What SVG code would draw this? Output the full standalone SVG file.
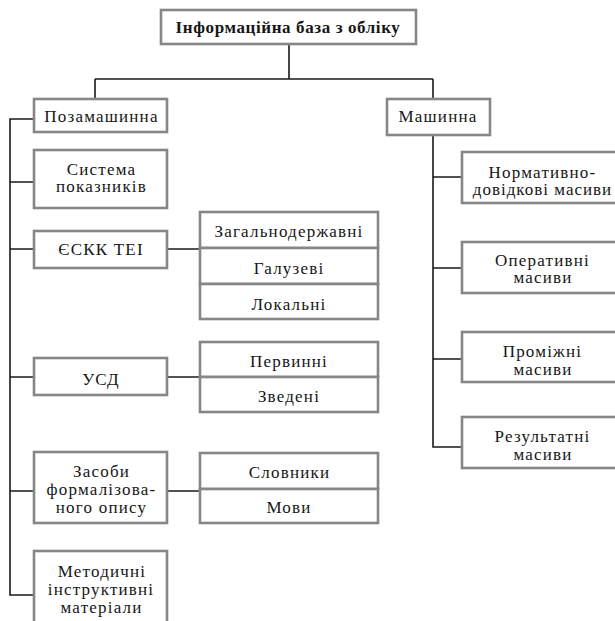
<svg xmlns="http://www.w3.org/2000/svg" width="615" height="621" viewBox="0 0 615 621">
<rect width="615" height="621" fill="#fff"/>
<g id="connectors" fill="none" stroke="#1a1a1a" stroke-width="1.6">
<path d="M289 44V79M95 79H433M95 79V99M433 79V99"/>
<path d="M34 119H10V595H34M10 182H34M10 249H34M10 377H34M10 491H34"/>
<path d="M167 249H200M167 377H200M167 491H200"/>
<path d="M433 135V447H462M433 177H462M433 268H462M433 359H462"/>
</g>
<g id="nodes" fill="#fff" stroke="#868686" stroke-width="2.6">
<g id="title"><rect x="161" y="10" width="255" height="34"/><text font-family="Liberation Serif" font-size="17" font-weight="bold" fill="#161616" stroke="none" text-anchor="middle" letter-spacing="0.6" x="288" y="33">Інформаційна база з обліку</text></g>
<g id="pozamashynna"><rect x="34" y="99" width="133" height="33"/><text font-family="Liberation Serif" font-size="17" fill="#161616" stroke="none" text-anchor="middle" letter-spacing="1.2" x="101.5" y="122">Позамашинна</text></g>
<g id="systema"><rect x="34" y="150" width="133" height="58"/><text font-family="Liberation Serif" font-size="17" fill="#161616" stroke="none" text-anchor="middle" letter-spacing="1.2" x="101.5" y="175">Система</text><text font-family="Liberation Serif" font-size="17" fill="#161616" stroke="none" text-anchor="middle" letter-spacing="1.2" x="101.5" y="192">показників</text></g>
<g id="eskk"><rect x="34" y="231" width="133" height="37"/><text font-family="Liberation Serif" font-size="17" fill="#161616" stroke="none" text-anchor="middle" letter-spacing="1.2" x="101" y="255">ЄСКК ТЕІ</text></g>
<g id="zagalno"><rect x="200" y="212" width="178" height="36"/><text font-family="Liberation Serif" font-size="17" fill="#161616" stroke="none" text-anchor="middle" letter-spacing="1.2" x="289" y="237">Загальнодержавні</text></g>
<g id="haluzevi"><rect x="200" y="248" width="178" height="36"/><text font-family="Liberation Serif" font-size="17" fill="#161616" stroke="none" text-anchor="middle" letter-spacing="1.2" x="289" y="274">Галузеві</text></g>
<g id="lokalni"><rect x="200" y="284" width="178" height="35"/><text font-family="Liberation Serif" font-size="17" fill="#161616" stroke="none" text-anchor="middle" letter-spacing="1.2" x="289" y="310">Локальні</text></g>
<g id="usd"><rect x="34" y="358" width="133" height="37"/><text font-family="Liberation Serif" font-size="17" fill="#161616" stroke="none" text-anchor="middle" letter-spacing="1.2" x="101" y="385">УСД</text></g>
<g id="pervynni"><rect x="200" y="342" width="178" height="35"/><text font-family="Liberation Serif" font-size="17" fill="#161616" stroke="none" text-anchor="middle" letter-spacing="1.2" x="289" y="367">Первинні</text></g>
<g id="zvedeni"><rect x="200" y="377" width="178" height="35"/><text font-family="Liberation Serif" font-size="17" fill="#161616" stroke="none" text-anchor="middle" letter-spacing="1.2" x="289" y="402">Зведені</text></g>
<g id="zasoby"><rect x="34" y="452" width="133" height="71"/><text font-family="Liberation Serif" font-size="17" fill="#161616" stroke="none" text-anchor="middle" letter-spacing="1.2" x="101.5" y="477">Засоби</text><text font-family="Liberation Serif" font-size="17" fill="#161616" stroke="none" text-anchor="middle" letter-spacing="1.2" x="101.5" y="495">формалізова-</text><text font-family="Liberation Serif" font-size="17" fill="#161616" stroke="none" text-anchor="middle" letter-spacing="1.2" x="101.5" y="513">ного опису</text></g>
<g id="slovnyky"><rect x="200" y="453" width="178" height="36"/><text font-family="Liberation Serif" font-size="17" fill="#161616" stroke="none" text-anchor="middle" letter-spacing="1.2" x="289.5" y="478">Словники</text></g>
<g id="movy"><rect x="200" y="489" width="178" height="34"/><text font-family="Liberation Serif" font-size="17" fill="#161616" stroke="none" text-anchor="middle" letter-spacing="1.2" x="289" y="513">Мови</text></g>
<g id="metodychni"><rect x="34" y="551" width="133" height="80"/><text font-family="Liberation Serif" font-size="17" fill="#161616" stroke="none" text-anchor="middle" letter-spacing="1.2" x="102" y="577">Методичні</text><text font-family="Liberation Serif" font-size="17" fill="#161616" stroke="none" text-anchor="middle" letter-spacing="1.2" x="101" y="595">інструктивні</text><text font-family="Liberation Serif" font-size="17" fill="#161616" stroke="none" text-anchor="middle" letter-spacing="1.2" x="101.5" y="613">матеріали</text></g>
<g id="mashynna"><rect x="387" y="99" width="103" height="36"/><text font-family="Liberation Serif" font-size="17" fill="#161616" stroke="none" text-anchor="middle" letter-spacing="1.2" x="438" y="122">Машинна</text></g>
<g id="normatyvno"><rect x="462" y="152" width="160" height="51"/><text font-family="Liberation Serif" font-size="17" fill="#161616" stroke="none" text-anchor="middle" letter-spacing="1.2" x="542.5" y="178">Нормативно-</text><text font-family="Liberation Serif" font-size="17" fill="#161616" stroke="none" text-anchor="middle" letter-spacing="1" x="542.5" y="195">довідкові масиви</text></g>
<g id="operatyvni"><rect x="462" y="242" width="160" height="51"/><text font-family="Liberation Serif" font-size="17" fill="#161616" stroke="none" text-anchor="middle" letter-spacing="1.2" x="542.5" y="266">Оперативні</text><text font-family="Liberation Serif" font-size="17" fill="#161616" stroke="none" text-anchor="middle" letter-spacing="1.2" x="543" y="283">масиви</text></g>
<g id="promizhni"><rect x="462" y="332" width="160" height="50"/><text font-family="Liberation Serif" font-size="17" fill="#161616" stroke="none" text-anchor="middle" letter-spacing="1.2" x="542.5" y="357">Проміжні</text><text font-family="Liberation Serif" font-size="17" fill="#161616" stroke="none" text-anchor="middle" letter-spacing="1.2" x="543" y="375">масиви</text></g>
<g id="rezultatni"><rect x="462" y="417" width="160" height="51"/><text font-family="Liberation Serif" font-size="17" fill="#161616" stroke="none" text-anchor="middle" letter-spacing="1.2" x="542.5" y="442">Результатні</text><text font-family="Liberation Serif" font-size="17" fill="#161616" stroke="none" text-anchor="middle" letter-spacing="1.2" x="543" y="460">масиви</text></g>
</g>
</svg>
